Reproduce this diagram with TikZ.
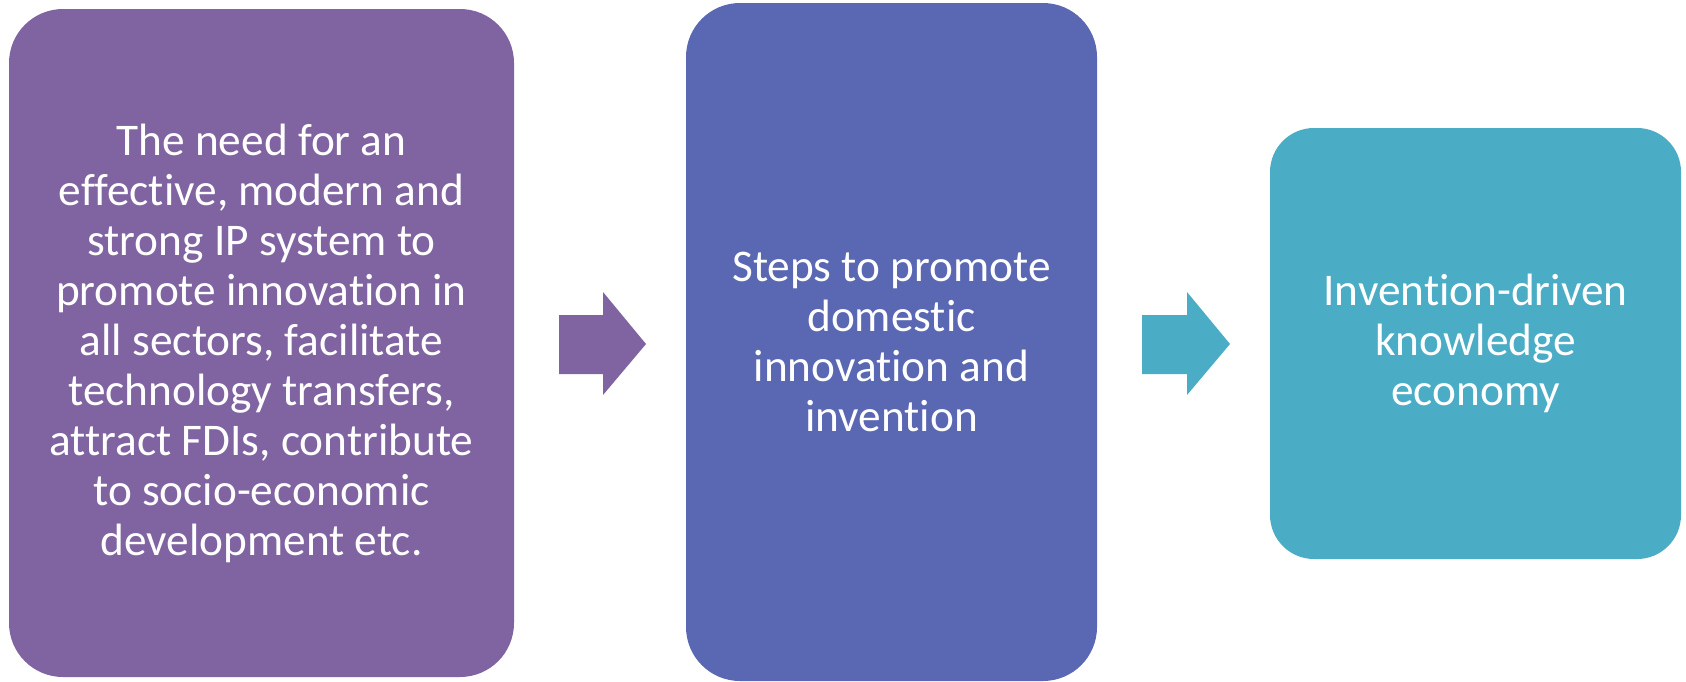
\documentclass[tikz,border=0pt]{standalone}
\usepackage{fontspec}
\setmainfont{Carlito}[RawFeature={-liga;-clig;-dlig}]
\definecolor{cpurple}{HTML}{8064A2}
\definecolor{cblue}{HTML}{5A67B3}
\definecolor{cteal}{HTML}{4BACC6}
\begin{document}
\begin{tikzpicture}[x=1pt,y=-1pt,
  box/.style={draw=none,rounded corners=#1,text=white,align=center,inner sep=0pt,
    font=\fontsize{45.3}{50}\selectfont},
  box/.default=54pt]
\useasboundingbox (0,0) rectangle (1686,681);
\fill[white] (0,0) rectangle (1686,681);
\node[box,fill=cpurple,minimum width=505pt,minimum height=668pt] (b1) at (261.5,343)
 {The need for an\\effective, modern and\\strong IP system to\\promote innovation in\\all sectors, facilitate\\technology transfers,\\attract FDIs, contribute\\to socio-economic\\development etc.};
\node[box,fill=cblue,minimum width=411pt,minimum height=678pt] (b2) at (891.5,342)
 {Steps to promote\\domestic\\innovation and\\invention};
\node[box=44pt,fill=cteal,minimum width=411pt,minimum height=431pt] (b3) at (1475.5,343.5)
 {Invention-driven\\knowledge\\economy};
\fill[cpurple] (559,315) -- (603,315) -- (603,292) -- (646,344) -- (603,395) -- (603,374) -- (559,374) -- cycle;
\fill[cteal] (1142,315) -- (1187,315) -- (1187,292) -- (1230,344) -- (1187,395) -- (1187,374) -- (1142,374) -- cycle;
\end{tikzpicture}
\end{document}
